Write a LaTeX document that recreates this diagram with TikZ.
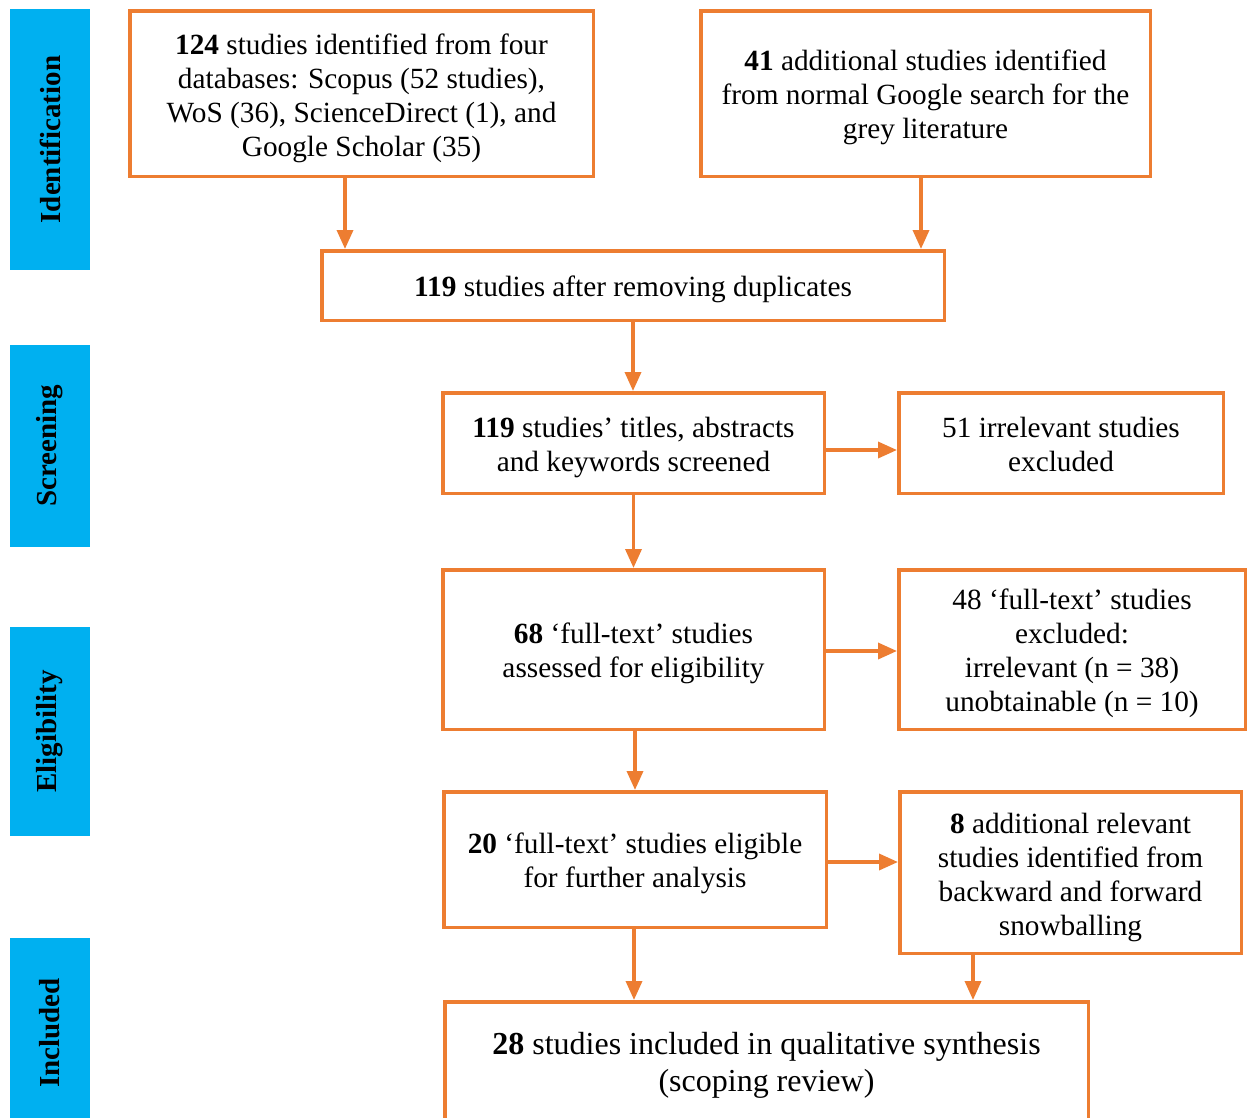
\documentclass[tikz,border=0pt]{standalone}
\usepackage{fontspec}
\setmainfont{Liberation Serif}
\usetikzlibrary{arrows.meta}
\definecolor{orng}{HTML}{ED7D31}
\definecolor{sky}{HTML}{00B0F0}
\begin{document}
\begin{tikzpicture}[x=1pt,y=-1pt,
  box/.style={draw=orng, line width=3.5pt, inner sep=0pt},
  txt/.style={align=center, inner sep=0pt, font=\fontsize{29.3}{34}\selectfont},
  arr/.style={draw=orng, line width=3.5pt, -{Triangle[width=16pt,length=19pt]}},
  stage/.style={fill=sky, inner sep=0pt, rotate=90, minimum height=80pt, font=\bfseries\fontsize{29}{34}\selectfont}]
\useasboundingbox (0,0) rectangle (1248,1117);

% stage labels
\node[stage, minimum width=261pt] (s1) at (50,139.5) {Identification};
\node[stage, minimum width=202pt] (s2) at (50,446) {Screening};
\node[stage, minimum width=209pt] (s3) at (50,731.5) {Eligibility};
\node[stage, minimum width=190pt] (s4) at (50,1033) {Included};

% boxes
\node[box, minimum width=463.5pt, minimum height=165.5pt] (A) at (361.5,93.5) {};
\node[box, minimum width=449.5pt, minimum height=165.5pt] (B) at (925.5,93.5) {};
\node[box, minimum width=622.5pt, minimum height=69.5pt] (C) at (633,285.5) {};
\node[box, minimum width=381.5pt, minimum height=100.5pt] (D) at (633.5,443) {};
\node[box, minimum width=324.5pt, minimum height=100.5pt] (E) at (1061,443) {};
\node[box, minimum width=381.5pt, minimum height=159.5pt] (F) at (633.5,649.5) {};
\node[box, minimum width=346.5pt, minimum height=159.5pt] (G) at (1072,649.5) {};
\node[box, minimum width=382.5pt, minimum height=135.5pt] (H) at (635,859.5) {};
\node[box, minimum width=341.5pt, minimum height=161.5pt] (I) at (1070.5,872.5) {};
\node[box, minimum width=643.5pt, minimum height=118.5pt] (J) at (766.5,1061) {};

% texts
\node[txt] (tA) at ([yshift=-5pt]A.center)
  {\strut\textbf{124} studies identified from four\\ databases: Scopus (52 studies),\\ WoS (36), ScienceDirect (1), and\\ Google Scholar (35)\strut};
\node[txt] (tB) at ([yshift=-4.5pt]B.center)
  {\strut\textbf{41} additional studies identified\\ from normal Google search for the\\ grey literature\strut};
\node[txt] (tC) at ([yshift=-4.5pt]C.center)
  {\strut\textbf{119} studies after removing duplicates\strut};
\node[txt] (tD) at ([yshift=-4.5pt]D.center)
  {\strut\textbf{119} studies’ titles, abstracts\\ and keywords screened\strut};
\node[txt] (tE) at ([yshift=-4.5pt]E.center)
  {\strut 51 irrelevant studies\\ excluded\strut};
\node[txt] (tF) at ([yshift=-4.5pt]F.center)
  {\strut\textbf{68} ‘full-text’ studies\\ assessed for eligibility\strut};
\node[txt] (tG) at ([yshift=-4.5pt]G.center)
  {\strut 48 ‘full-text’ studies\\ excluded:\\ irrelevant (n = 38)\\ unobtainable (n = 10)\strut};
\node[txt] (tH) at ([yshift=-4.5pt]H.center)
  {\strut\textbf{20} ‘full-text’ studies eligible\\ for further analysis\strut};
\node[txt] (tI) at ([yshift=-5pt]I.center)
  {\strut\textbf{8} additional relevant\\ studies identified from\\ backward and forward\\ snowballing\strut};
\node[txt, font=\fontsize{32}{37}\selectfont] (tJ) at ([yshift=-4.5pt]J.center)
  {\strut\textbf{28} studies included in qualitative synthesis\\ (scoping review)\strut};

% connectors
\path (A.south) ++(-16.5,0) coordinate (a1);
\draw[arr] (a1) -- (a1 |- C.north);
\path (B.south) ++(-4.5,0) coordinate (b1);
\draw[arr] (b1) -- (b1 |- C.north);
\draw[arr] (C.south) -- (C.south |- D.north);
\path (D.east) ++(0,7) coordinate (d1);
\draw[arr] (d1) -- (d1 -| E.west);
\draw[arr] (D.south) -- (D.south |- F.north);
\path (F.east) ++(0,1.5) coordinate (f1);
\draw[arr] (f1) -- (f1 -| G.west);
\path (F.south) ++(1.5,0) coordinate (f2);
\draw[arr] (f2) -- (f2 |- H.north);
\path (H.east) ++(0,2.5) coordinate (h1);
\draw[arr] (h1) -- (h1 -| I.west);
\path (H.south) ++(-1,0) coordinate (h2);
\draw[arr] (h2) -- (h2 |- J.north);
\path (I.south) ++(-97.5,0) coordinate (i1);
\draw[arr] (i1) -- (i1 |- J.north);
\end{tikzpicture}
\end{document}
